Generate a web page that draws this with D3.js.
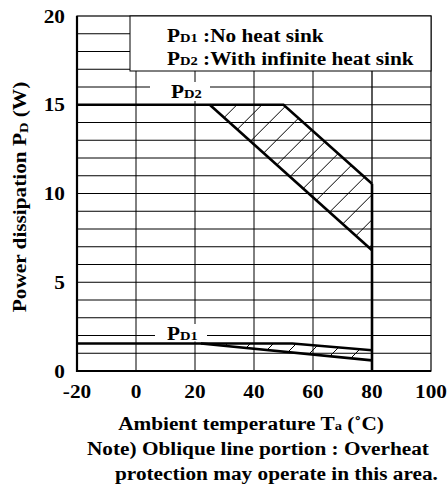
<!DOCTYPE html>
<html>
<head>
<meta charset="utf-8">
<script src="https://cdn.jsdelivr.net/npm/d3@7"></script>
<style>
  body { margin: 0; background: #fff; }
  text { font-family: "Liberation Serif", "Times New Roman", serif; font-weight: bold; fill: #000; }
</style>
</head>
<body>
<script>
// axis ticks
const xTicks = [-20, 0, 20, 40, 60, 80, 100];
const yTicks = [0, 5, 10, 15, 20];
const xGrid = [0, 20, 40, 60, 80];
const yGrid = d3.range(1, 20);

// derating curves [Ta, Pd]
const pd2Upper = [[-20, 15], [50, 15], [80, 10.55]];
const pd2Lower = [[25, 15], [80, 6.8]];
const pd1Upper = [[-20, 1.55], [53, 1.55], [80, 1.17]];
const pd1Lower = [[22, 1.55], [80, 0.6]];
const cutoff = [[80, 10.55], [80, 0]];

// hatched (oblique line) regions
const pd2Area = [[25, 15], [50, 15], [80, 10.55], [80, 6.8]];
const pd1Area = [[22, 1.55], [53, 1.55], [80, 1.17], [80, 0.6]];

const legendRows = [["D1", " :No heat sink"], ["D2", " :With infinite heat sink"]];

const W = 447, H = 486;
const SX = 1.12; // the reference type is a little wider than plain Times
const x = d3.scaleLinear().domain([-20, 100]).range([77, 431]);
const y = d3.scaleLinear().domain([0, 20]).range([371, 16]);

const svg = d3.select("body").append("svg").attr("width", W).attr("height", H);

const line = d3.line().x(d => x(d[0])).y(d => y(d[1]));

// text helper: parts = [[string, small?], ...]
function label(px, py, anchor, parts, rot) {
  const t = svg.append("text")
    .attr("transform", `translate(${px},${py})${rot ? " rotate(" + rot + ")" : ""} scale(${SX},1)`)
    .attr("text-anchor", anchor).attr("font-size", 19);
  parts.forEach(p => {
    const s = t.append("tspan").text(p[0]);
    if (p[1]) s.attr("font-size", 13);
  });
  return t;
}

// grid
svg.append("g").selectAll("line").data(yGrid).join("line")
  .attr("x1", x(-20)).attr("x2", x(100))
  .attr("y1", d => y(d)).attr("y2", d => y(d))
  .attr("stroke", "#000").attr("stroke-width", 1);
svg.append("g").selectAll("line").data(xGrid).join("line")
  .attr("x1", d => x(d)).attr("x2", d => x(d))
  .attr("y1", y(0)).attr("y2", y(20))
  .attr("stroke", "#000").attr("stroke-width", d => d === 80 ? 1.3 : 1);

// frame
svg.append("rect")
  .attr("x", x(-20)).attr("y", y(20))
  .attr("width", x(100) - x(-20)).attr("height", y(0) - y(20))
  .attr("fill", "none").attr("stroke", "#000").attr("stroke-width", 1.2);
svg.append("path").attr("d", `M${x(-20)},${y(20)}V${y(0)}H${x(100)}`)
  .attr("fill", "none").attr("stroke", "#000").attr("stroke-width", 2.2);

// hatching
function hatch(area, id, step, c0) {
  const pts = area.map(d => [x(d[0]), y(d[1])]);
  svg.append("clipPath").attr("id", id)
    .append("polygon").attr("points", pts.map(p => p.join(",")).join(" "));
  const cs = [];
  for (let c = c0 - 40 * step; c < 1000; c += step) if (c > 0) cs.push(c);
  svg.append("g").attr("clip-path", `url(#${id})`)
    .selectAll("line").data(cs).join("line")
    .attr("x1", c => c - 400).attr("y1", 400)
    .attr("x2", c => c).attr("y2", 0)
    .attr("stroke", "#000").attr("stroke-width", 1);
}
hatch(pd2Area, "clip2", 25, 341.7);
hatch(pd1Area, "clip1", 23, 617);

// curves
[pd2Upper, pd2Lower, pd1Upper, pd1Lower, cutoff].forEach(d => {
  svg.append("path").attr("d", line(d))
    .attr("fill", "none").attr("stroke", "#000").attr("stroke-width", 2.6)
    .attr("stroke-linejoin", "miter");
});

// curve labels on white patches
svg.append("rect").attr("x", 150).attr("y", 82).attr("width", 60).attr("height", 19).attr("fill", "#fff");
label(171, 98, "start", [["P"], ["D2", 1]]);
svg.append("rect").attr("x", 155).attr("y", 324).attr("width", 52).attr("height", 17.5).attr("fill", "#fff");
label(167, 340, "start", [["P"], ["D1", 1]]);

// legend
svg.append("rect").attr("x", 130).attr("y", y(20)).attr("width", x(100) - 130).attr("height", 55)
  .attr("fill", "#fff").attr("stroke", "#000").attr("stroke-width", 1);
legendRows.forEach((r, i) => label(167, 42 + i * 23, "start", [["P"], [r[0], 1], [r[1]]]));

// tick labels
xTicks.forEach(d => label(x(d), 398, "middle", [[String(d)]]));
yTicks.forEach(d => label(65, y(d) + 6.5, "end", [[String(d)]]));

// axis titles
label(251, 430, "middle", [["Ambient temperature T"], ["a", 1], [" (˚C)"]]);
const yt = label(26, 197, "middle", [["Power dissipation P"], ["D", 1], [" (W)"]], -90);
yt.select("tspan:nth-child(2)").attr("dy", 2);
yt.select("tspan:nth-child(3)").attr("dy", -2);

// note
label(87, 455, "start", [["Note) Oblique line portion : Overheat"]]);
label(115, 480, "start", [["protection may operate in this area."]]);
</script>
</body>
</html>
